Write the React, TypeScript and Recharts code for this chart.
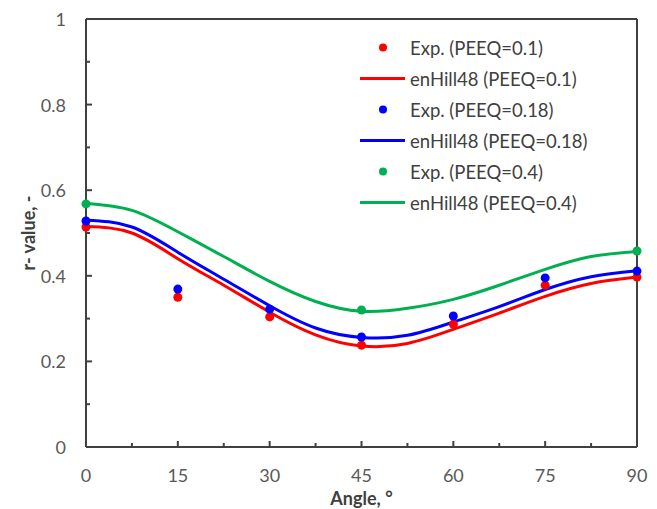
import {
  ComposedChart,
  Line,
  Scatter,
  XAxis,
  YAxis,
  ReferenceLine,
  Legend,
  Label,
} from "recharts";

// angles (deg) at which the enHill48 curves were read
const curveAngles = [0, 7.5, 15, 22.5, 30, 37.5, 45, 52.5, 60, 67.5, 75, 82.5, 90];
const hill01 = [0.515, 0.5, 0.44, 0.378, 0.315, 0.262, 0.236, 0.242, 0.275, 0.313, 0.352, 0.382, 0.397];
const hill018 = [0.53, 0.514, 0.455, 0.392, 0.33, 0.278, 0.256, 0.261, 0.292, 0.328, 0.368, 0.398, 0.412];
const hill04 = [0.569, 0.553, 0.503, 0.445, 0.387, 0.34, 0.317, 0.324, 0.345, 0.378, 0.415, 0.445, 0.457];

// experimental r-values
const expAngles = [0, 15, 30, 45, 60, 75, 90];
const exp01 = [0.514, 0.35, 0.304, 0.238, 0.287, 0.378, 0.397];
const exp018 = [0.528, 0.369, 0.322, 0.257, 0.306, 0.395, 0.411];
const exp04Angles = [0, 45, 90];
const exp04 = [0.568, 0.32, 0.458];

const xTicks = [0, 7.5, 15, 22.5, 30, 37.5, 45, 52.5, 60, 67.5, 75, 82.5, 90];
const yTicks = [0, 0.1, 0.2, 0.3, 0.4, 0.5, 0.6, 0.7, 0.8, 0.9, 1];

const RED = "#ff0000";
const BLUE = "#0000ff";
const GREEN = "#00b050";
const AXIS = "#404040";
const FONT = "Lato, 'Open Sans', sans-serif";

const toPts = (xs: number[], ys: number[]) => xs.map((a, i) => ({ angle: a, r: ys[i] }));

const series = [
  { name: "0.1", color: RED, exp: toPts(expAngles, exp01), fit: toPts(curveAngles, hill01) },
  { name: "0.18", color: BLUE, exp: toPts(expAngles, exp018), fit: toPts(curveAngles, hill018) },
  { name: "0.4", color: GREEN, exp: toPts(exp04Angles, exp04), fit: toPts(curveAngles, hill04) },
];

const XTick = (props: any) => {
  const { x, y, payload } = props;
  const major = payload.value % 15 === 0;
  return (
    <g>
      <line x1={x} x2={x} y1={y} y2={y - (major ? 6 : 4)} stroke={AXIS} strokeWidth={2} />
      {major && (
        <text x={x} y={y + 28} textAnchor="middle" dominantBaseline="central" fill="#595959" fontSize={18} fontFamily={FONT}>
          {payload.value}
        </text>
      )}
    </g>
  );
};

const YTick = (props: any) => {
  const { x, y, payload } = props;
  const v = Math.round(payload.value * 10);
  const major = v % 2 === 0;
  return (
    <g>
      <line x1={x} x2={x + (major ? 6 : 4)} y1={y} y2={y} stroke={AXIS} strokeWidth={2} />
      {major && (
        <text x={x - 20} y={y} textAnchor="end" dominantBaseline="central" fill="#595959" fontSize={18} fontFamily={FONT}>
          {v / 10}
        </text>
      )}
    </g>
  );
};

const YTitle = (props: any) => {
  const { viewBox } = props;
  const cx = 20;
  const cy = viewBox.y + viewBox.height / 2;
  return (
    <text
      x={cx}
      y={cy}
      transform={`rotate(-90, ${cx}, ${cy})`}
      textAnchor="middle"
      dominantBaseline="central"
      fontWeight="bold"
      fontSize={18}
      fill={AXIS}
      fontFamily={FONT}
    >
      r- value, -
    </text>
  );
};

const Dot = (color: string) => (props: any) => <circle cx={props.cx} cy={props.cy} r={4.5} fill={color} />;

const LegendBox = () => (
  <div style={{ fontFamily: FONT, fontSize: 18.5, color: AXIS, whiteSpace: "nowrap" }}>
    {series.map((s) => (
      <div key={s.name}>
        <div style={{ display: "flex", alignItems: "center", height: 31 }}>
          <svg width={50} height={31}>
            <circle cx={23} cy={15.5} r={4} fill={s.color} />
          </svg>
          <span>Exp. (PEEQ={s.name})</span>
        </div>
        <div style={{ display: "flex", alignItems: "center", height: 31 }}>
          <svg width={50} height={31}>
            <line x1={0} x2={45} y1={15.5} y2={15.5} stroke={s.color} strokeWidth={3} />
          </svg>
          <span>enHill48 (PEEQ={s.name})</span>
        </div>
      </div>
    ))}
  </div>
);

export default function App() {
  return (
    <ComposedChart width={649} height={501} margin={{ top: 11, right: 20, bottom: 0, left: 0 }}>
      <XAxis
        type="number"
        dataKey="angle"
        domain={[0, 90]}
        ticks={xTicks}
        interval={0}
        tick={<XTick />}
        tickLine={false}
        tickSize={0}
        tickMargin={0}
        height={62}
        axisLine={{ stroke: AXIS, strokeWidth: 2 }}
        allowDuplicatedCategory={false}
      >
        <Label value="Angle, °" position="insideBottom" offset={4} fontWeight="bold" fontSize={18} fill={AXIS} fontFamily={FONT} />
      </XAxis>
      <YAxis
        type="number"
        dataKey="r"
        domain={[0, 1]}
        ticks={yTicks}
        interval={0}
        tick={<YTick />}
        tickLine={false}
        tickSize={0}
        tickMargin={0}
        width={78}
        axisLine={{ stroke: AXIS, strokeWidth: 2 }}
      >
        <Label content={<YTitle />} />
      </YAxis>
      <ReferenceLine y={1} stroke={AXIS} strokeWidth={2} />
      <ReferenceLine x={90} stroke={AXIS} strokeWidth={2} />
      {series.map((s) => (
        <Line
          key={"fit" + s.name}
          data={s.fit}
          dataKey="r"
          type="natural"
          stroke={s.color}
          strokeWidth={3}
          dot={false}
          isAnimationActive={false}
        />
      ))}
      {series.map((s) => (
        <Scatter key={"exp" + s.name} data={s.exp} dataKey="r" shape={Dot(s.color)} isAnimationActive={false} />
      ))}
      <Legend
        layout="horizontal"
        verticalAlign="middle"
        align="center"
        content={<LegendBox />}
        wrapperStyle={{ top: 24, left: 352, width: 280 }}
      />
    </ComposedChart>
  );
}
